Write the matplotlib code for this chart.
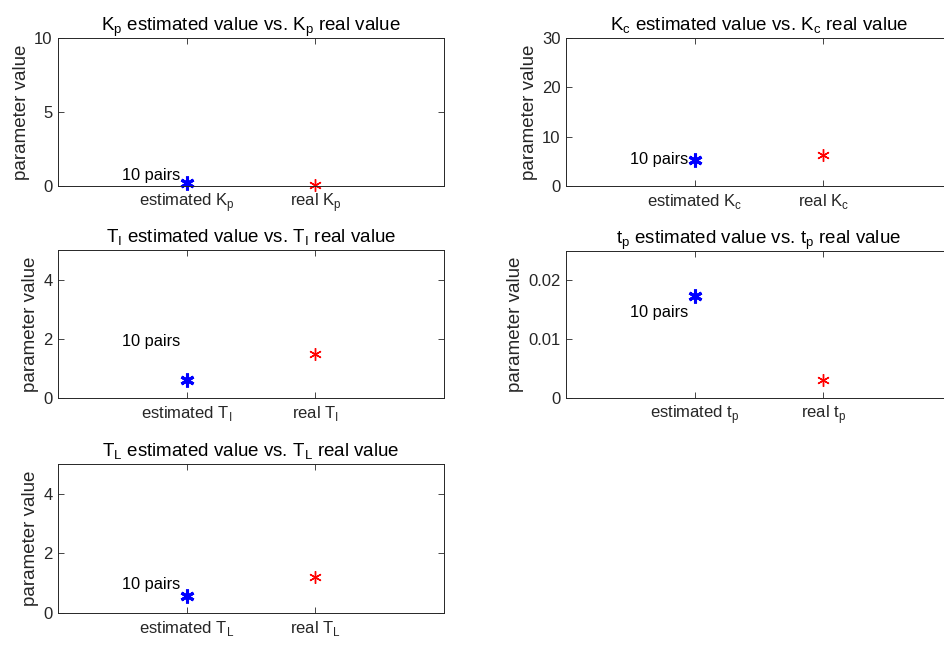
import matplotlib
matplotlib.use("Agg")
import matplotlib.pyplot as plt
from matplotlib.ticker import FormatStrFormatter

plt.rcParams["font.family"] = ["Liberation Sans", "DejaVu Sans"]
plt.rcParams["mathtext.fontset"] = "custom"
plt.rcParams["mathtext.rm"] = "Liberation Sans"

AX_COLOR = "#262626"

# 参数名（下标）
params = ["K_p", "K_c", "T_I", "t_p", "T_L"]
estimated = [0.2, 5.3, 0.62, 0.0174, 0.58]
real = [0.1, 6.3, 1.48, 0.0031, 1.22]
ylims = [(0, 10), (0, 30), (0, 5), (0, 0.025), (0, 5)]
yticks = [[0, 5, 10], [0, 10, 20, 30], [0, 2, 4], [0, 0.01, 0.02], [0, 2, 4]]
# "10 pairs" 标注位置 (x, y) 数据坐标
note_xy = [(0.5, 0.74), (0.5, 5.3), (0.5, 1.9), (0.5, 0.0146), (0.5, 0.94)]
note_text = "10 pairs"


def sub(name):
    base, s = name.split("_")
    return base + r"$_{\mathregular{" + s + "}}$"


fig = plt.figure(figsize=(9.45, 6.48), dpi=100)

W, H = 945, 648
# 轴框位置（像素，左/上/右/下）
boxes = [
    (58, 38, 444, 186),
    (566, 38, 952, 186),
    (58, 250, 444, 398),
    (566, 251, 952, 398),
    (58, 464, 444, 613),
]

for i, p in enumerate(params):
    l, t, r, b = boxes[i]
    ax = fig.add_axes([l / W, 1 - b / H, (r - l) / W, (b - t) / H])
    ax.plot([1], [estimated[i]], linestyle="none", marker=(6, 2, 0),
            markersize=10, markeredgewidth=2.2, color="#0000ff", clip_on=False)
    ax.plot([2], [real[i]], linestyle="none", marker=(6, 2, 0),
            markersize=9, markeredgewidth=1.0, color="#ff0000", clip_on=False)
    ax.text(note_xy[i][0], note_xy[i][1], note_text, fontsize=11.8,
            color="black", va="center", ha="left")

    ax.set_xlim(0, 3)
    ax.set_ylim(*ylims[i])
    ax.set_xticks([1, 2])
    ax.set_xticklabels(["estimated " + sub(p), "real " + sub(p)])
    ax.set_yticks(yticks[i])
    ax.yaxis.set_major_formatter(FormatStrFormatter("%g"))
    ax.set_ylabel("parameter value", fontsize=13.5, color=AX_COLOR, labelpad=3)
    ax.set_title(sub(p) + " estimated value vs. " + sub(p) + " real value",
                 fontsize=13.5, color="black", pad=5)
    ax.tick_params(direction="in", length=4, width=0.6, top=True, right=True,
                   labelsize=12, colors=AX_COLOR, pad=4)
    for sp in ax.spines.values():
        sp.set_color(AX_COLOR)
        sp.set_linewidth(0.7)

fig.savefig("out.png", dpi=100)
